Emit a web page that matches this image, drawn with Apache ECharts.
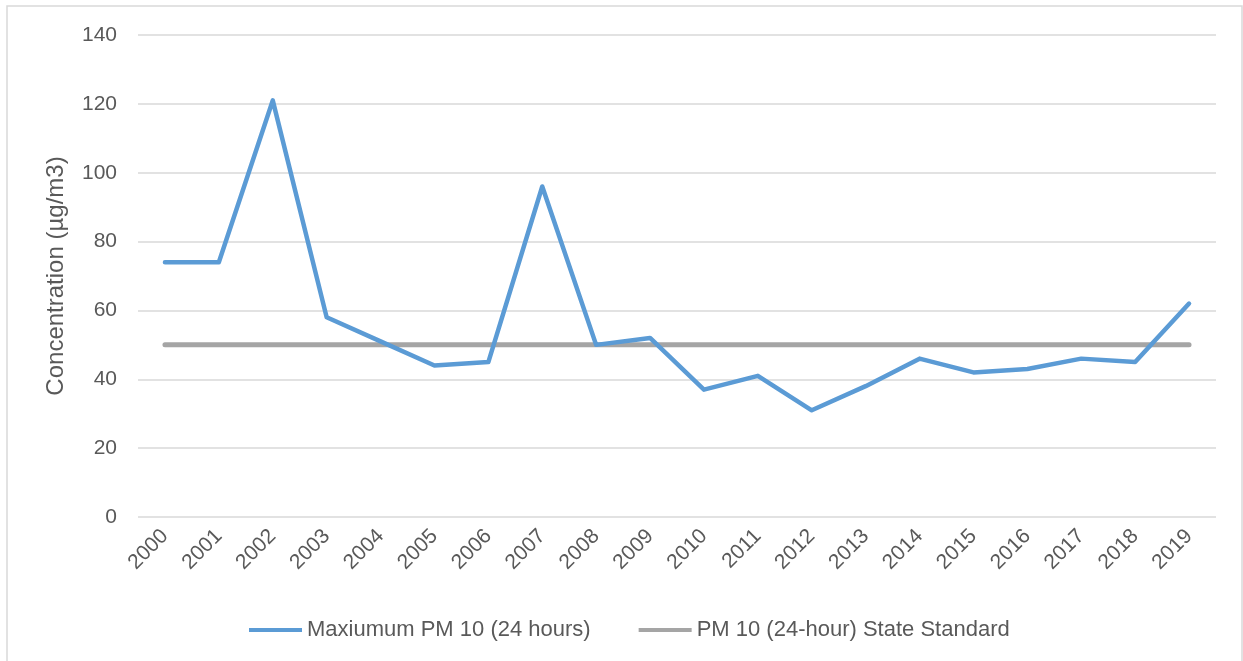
<!DOCTYPE html>
<html>
<head>
<meta charset="utf-8">
<script src="https://cdn.jsdelivr.net/npm/echarts@6/dist/echarts.min.js"></script>
<style>
  html, body { margin: 0; padding: 0; background: #fff; }
  #chart { width: 1243px; height: 661px; }
</style>
</head>
<body>
<div id="chart"></div>
<script>
const years = ['2000', '2001', '2002', '2003', '2004', '2005', '2006', '2007', '2008', '2009',
  '2010', '2011', '2012', '2013', '2014', '2015', '2016', '2017', '2018', '2019'];
const maxPm10 = [74, 74, 121, 58, 51, 44, 45, 96, 50, 52, 37, 41, 31, 38, 46, 42, 43, 46, 45, 62];
const stateStandard = [50, 50, 50, 50, 50, 50, 50, 50, 50, 50, 50, 50, 50, 50, 50, 50, 50, 50, 50, 50];

const font = '"Liberation Sans", Arial, sans-serif';
const textColor = '#595959';

const myChart = echarts.init(document.getElementById('chart'));

const option = {
  animation: false,
  textStyle: { fontFamily: font },
  graphic: [{
    type: 'rect',
    shape: { x: 7, y: 6, width: 1235, height: 670 },
    style: { fill: 'none', stroke: '#d9d9d9', lineWidth: 1.5 },
    silent: true
  }],
  grid: { left: 138, right: 27, top: 35, bottom: 144 },
  legend: {
    bottom: 15,
    left: 244,
    itemWidth: 53,
    itemHeight: 4,
    itemGap: 48,
    icon: 'rect',
    textStyle: { fontSize: 22, color: textColor, fontFamily: font },
    data: ['Maxiumum PM 10 (24 hours)', 'PM 10 (24-hour) State Standard']
  },
  xAxis: {
    type: 'category',
    data: years,
    boundaryGap: true,
    axisLine: { show: false },
    axisTick: { show: false },
    axisLabel: { rotate: 45, fontSize: 21, color: textColor, margin: 16, fontFamily: font, interval: 0 }
  },
  yAxis: {
    type: 'value',
    min: 0,
    max: 140,
    interval: 20,
    name: 'Concentration (µg/m3)',
    nameLocation: 'middle',
    nameGap: 70,
    nameTextStyle: { fontSize: 24, color: textColor, fontFamily: font },
    axisLine: { show: false },
    axisTick: { show: false },
    axisLabel: { fontSize: 21, color: textColor, margin: 21, fontFamily: font },
    splitLine: { lineStyle: { color: '#d9d9d9', width: 1.5 } }
  },
  series: [
    {
      name: 'Maxiumum PM 10 (24 hours)',
      type: 'line',
      data: maxPm10,
      symbol: 'none',
      lineStyle: { color: '#5b9bd5', width: 4.5, cap: 'round', join: 'round' },
      itemStyle: { color: '#5b9bd5' },
      z: 3
    },
    {
      name: 'PM 10 (24-hour) State Standard',
      type: 'line',
      data: stateStandard,
      symbol: 'none',
      lineStyle: { color: '#a5a5a5', width: 5, cap: 'round' },
      itemStyle: { color: '#a5a5a5' },
      z: 2
    }
  ]
};

myChart.setOption(option);
</script>
</body>
</html>
